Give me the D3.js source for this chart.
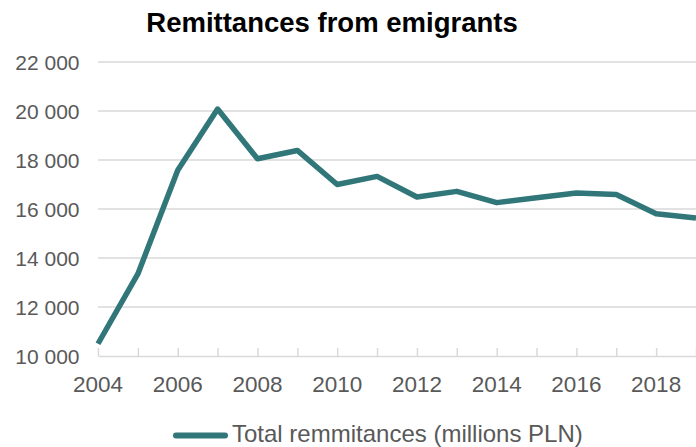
<!DOCTYPE html>
<html>
<head>
<meta charset="utf-8">
<script src="https://cdn.jsdelivr.net/npm/d3@7"></script>
<style>
  body { margin: 0; background: #fff; }
  text { font-family: "Liberation Sans", Arial, sans-serif; }
</style>
</head>
<body>
<div id="chart"></div>
<script>
// data
var years = [2004, 2005, 2006, 2007, 2008, 2009, 2010, 2011, 2012, 2013, 2014, 2015, 2016, 2017, 2018, 2019];
var remittances = [10500, 13350, 17580, 20080, 18050, 18390, 17000, 17330, 16490, 16720, 16260, 16460, 16650, 16590, 15810, 15630];
var yTicks = [10000, 12000, 14000, 16000, 18000, 20000, 22000];
var xLabels = [2004, 2006, 2008, 2010, 2012, 2014, 2016, 2018];
var seriesName = "Total remmitances (millions PLN)";
var title = "Remittances from emigrants";

var W = 696, H = 447;
var margin = {top: 62, right: 0, bottom: 91, left: 98};

var svg = d3.select("#chart").append("svg")
    .attr("width", W)
    .attr("height", H);

var x = d3.scaleLinear().domain([2004, 2019]).range([margin.left, W - margin.right]);
var y = d3.scaleLinear().domain([10000, 22000]).range([H - margin.bottom, margin.top]);

var fmt = function(d) { return d3.format(",")(d).replace(",", " "); };

//title
svg.append("text")
    .attr("x", 332)
    .attr("y", 32)
    .attr("text-anchor", "middle")
    .style("font-size", "27.5px")
    .style("font-weight", "bold")
    .attr("fill", "#000")
    .text(title);

//gridlines
svg.append("g").selectAll("line")
    .data(yTicks.slice(1))
    .enter().append("line")
    .attr("x1", margin.left).attr("x2", W)
    .attr("y1", function(d) { return y(d); })
    .attr("y2", function(d) { return y(d); })
    .attr("stroke", "#d9d9d9")
    .attr("stroke-width", 1.5);

//y labels
svg.append("g").selectAll("text")
    .data(yTicks)
    .enter().append("text")
    .attr("x", 79.5)
    .attr("y", function(d) { return y(d) + 8; })
    .attr("text-anchor", "end")
    .attr("fill", "#595959")
    .style("font-size", "21px")
    .text(fmt);

//x axis
var xAxis = svg.append("g")
    .attr("transform", "translate(0," + y(10000) + ")")
    .call(d3.axisBottom(x).tickValues(years).tickSizeInner(-8).tickSizeOuter(0).tickFormat(""));
xAxis.select(".domain").attr("stroke", "#d9d9d9").attr("stroke-width", 1.5);
xAxis.selectAll(".tick line").attr("stroke", "#d9d9d9").attr("stroke-width", 1.5);

svg.append("g").selectAll("text")
    .data(xLabels)
    .enter().append("text")
    .attr("x", function(d) { return x(d); })
    .attr("y", 392)
    .attr("text-anchor", "middle")
    .attr("fill", "#595959")
    .style("font-size", "22.5px")
    .text(function(d) { return d; });

//line
var line = d3.line()
    .x(function(d, i) { return x(years[i]); })
    .y(function(d) { return y(d); });

svg.append("path")
    .datum(remittances)
    .attr("d", line)
    .attr("fill", "none")
    .attr("stroke", "#31777a")
    .attr("stroke-width", 5.5)
    .attr("stroke-linejoin", "round");

//legend
svg.append("line")
    .attr("x1", 176).attr("x2", 225)
    .attr("y1", 435.5).attr("y2", 435.5)
    .attr("stroke", "#31777a")
    .attr("stroke-width", 6)
    .attr("stroke-linecap", "round");

svg.append("text")
    .attr("x", 232)
    .attr("y", 442)
    .attr("fill", "#595959")
    .style("font-size", "24px")
    .text(seriesName);
</script>
</body>
</html>
